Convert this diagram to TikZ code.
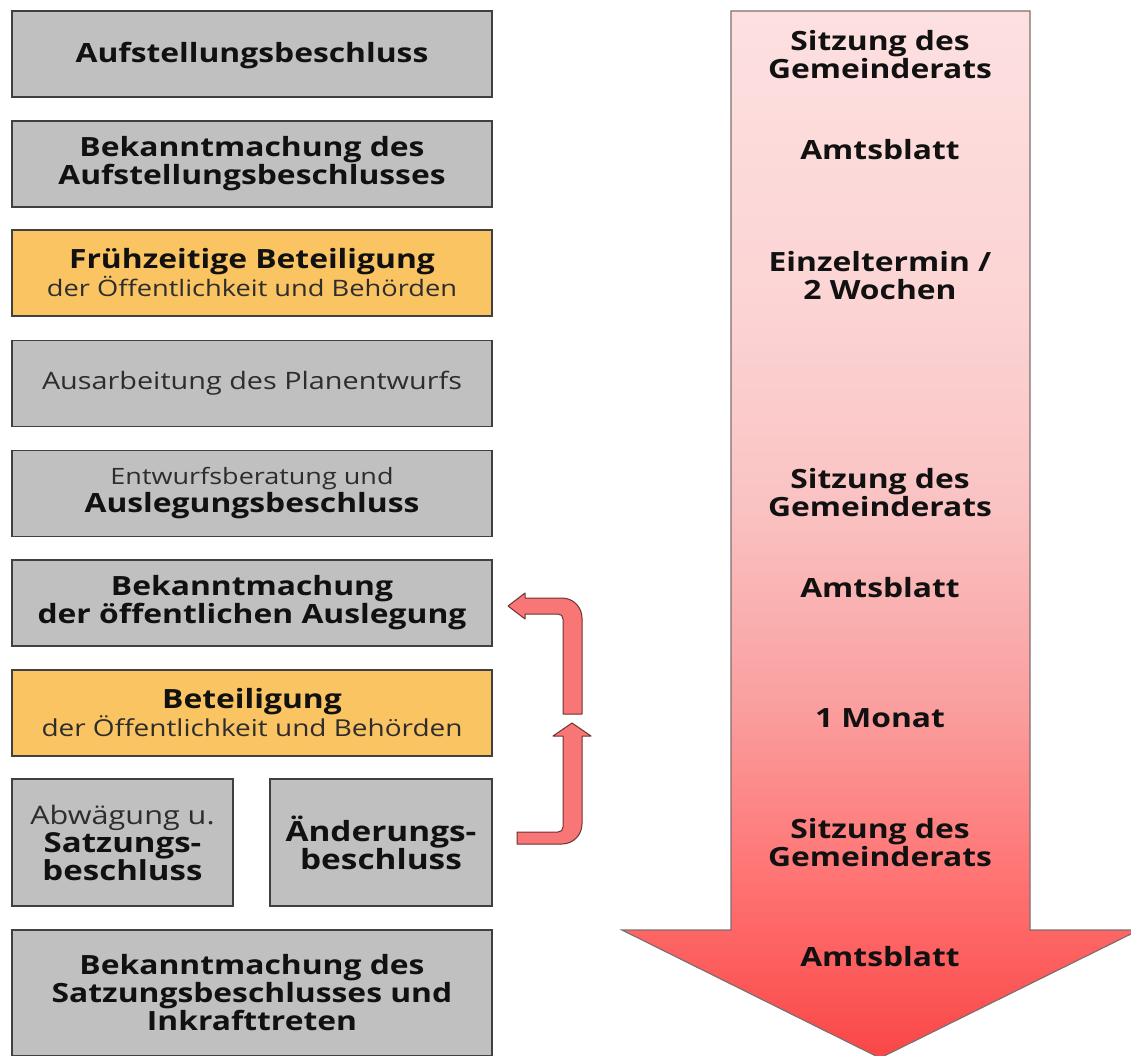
\documentclass[tikz,border=0pt]{standalone}
\usepackage{fontspec}
\setmainfont{Open Sans}[FakeStretch=1.2]
\definecolor{boxgray}{RGB}{192,192,192}
\definecolor{boxorange}{RGB}{250,196,98}
\definecolor{edge}{RGB}{64,64,64}
\definecolor{txt}{RGB}{17,17,17}
\definecolor{txtlight}{RGB}{45,45,45}
\definecolor{uafill}{RGB}{248,118,118}
\definecolor{uaedge}{RGB}{110,50,50}
\definecolor{bigedge}{RGB}{128,110,110}
\definecolor{sa}{RGB}{250,70,70}
\definecolor{sb}{RGB}{255,115,115}
\definecolor{sc}{RGB}{250,160,160}
\definecolor{sd}{RGB}{250,195,195}
\definecolor{se}{RGB}{252,212,212}
\definecolor{sf}{RGB}{253,224,224}
\pgfdeclareverticalshading{bigarrow}{100bp}{%
 color(0bp)=(sa); color(25bp)=(sa); color(33.5bp)=(sb); color(42.1bp)=(sc);
 color(51.6bp)=(sd); color(61.2bp)=(se); color(75bp)=(sf); color(100bp)=(sf)}
\newcommand{\bfont}{\fontsize{26.5}{28}\selectfont\bfseries\color{txt}}
\newcommand{\lighttxt}[2][22.7]{{\fontsize{#1}{28}\selectfont\mdseries\color{txtlight}#2}}
\tikzset{
 box/.style={draw=edge, fill=boxgray, line width=1.2pt, minimum width=480pt,
   minimum height=86pt, inner sep=0pt, align=center, font=\bfont},
 obox/.style={box, fill=boxorange},
 rtext/.style={align=center, font=\bfont, inner sep=0pt},
 uarrow/.style={fill=uafill, draw=uaedge, line width=1pt, line join=round},
}
\begin{document}
\begin{tikzpicture}[x=1pt,y=-1pt]
\useasboundingbox (0,0) rectangle (1131,1056);
% big timeline arrow
\shadedraw[shading=bigarrow, draw=bigedge, line width=1.2pt]
 (731,11) -- (1030,11) -- (1030,930) -- (1139,930) -- (880,1058) -- (622,930) -- (731,930) -- cycle;
% left column
\node[box, text height=22pt, text depth=4pt] (b1) at (252,54) {Aufstellungsbeschluss};
\node[box] (b2) at (252,164) {Bekanntmachung des\\Aufstellungsbeschlusses};
\node[obox] (b3) at (252,273) {Frühzeitige Beteiligung\\\lighttxt{der Öffentlichkeit und Behörden}};
\node[box, font=\fontsize{24}{28}\selectfont\color{txtlight}] (b4) at (252,383.5) {Ausarbeitung des Planentwurfs};
\node[box] (b5) at (252,493.5) {\lighttxt[22.5]{Entwurfsberatung und}\\Auslegungsbeschluss};
\node[box] (b6) at (252,603) {Bekanntmachung\\der öffentlichen Auslegung};
\node[obox] (b7) at (252,713) {Beteiligung\\\lighttxt[23.3]{der Öffentlichkeit und Behörden}};
\node[box, minimum width=221pt, minimum height=127pt, font=\fontsize{27.5}{28}\selectfont\bfseries\color{txt}] (b8a) at (122.5,842.5) {\lighttxt[25.5]{Abwägung u.}\\Satzungs-\\beschluss};
\node[box, minimum width=222pt, minimum height=127pt, font=\fontsize{27.8}{28}\selectfont\bfseries\color{txt}] (b8b) at (381,842.5) {Änderungs-\\beschluss};
\node[box, minimum height=126pt] (b9) at (252,993) {Bekanntmachung des\\Satzungsbeschlusses und\\Inkrafttreten};
% right column texts
\node[rtext] (r1) at (880,55) {Sitzung des\\Gemeinderats};
\node[rtext] (r2) at (880,150) {Amtsblatt};
\node[rtext] (r3) at (880,276) {Einzeltermin /\\2 Wochen};
\node[rtext] (r4) at (880,493) {Sitzung des\\Gemeinderats};
\node[rtext] (r5) at (880,588) {Amtsblatt};
\node[rtext] (r6) at (880,718) {1 Monat};
\node[rtext] (r7) at (880,843) {Sitzung des\\Gemeinderats};
\node[rtext] (r8) at (880,957) {Amtsblatt};
% U-shaped block arrows
\filldraw[uarrow] (508,606) -- (525,593) -- (525,598) -- (562,598)
  .. controls (573,598) and (582,607) .. (582,618) -- (582,714) -- (563,714) -- (563,619)
  .. controls (563,616) and (561,614) .. (558,614) -- (525,614) -- (525,619) -- cycle;
\filldraw[uarrow] (517,832) -- (558,832) .. controls (561,832) and (563,830) .. (563,827)
  -- (563,736) -- (553,736) -- (572,723) -- (591,736) -- (582,736) -- (582,824)
  .. controls (582,835) and (573,844) .. (562,844) -- (517,844) -- cycle;
\end{tikzpicture}
\end{document}
